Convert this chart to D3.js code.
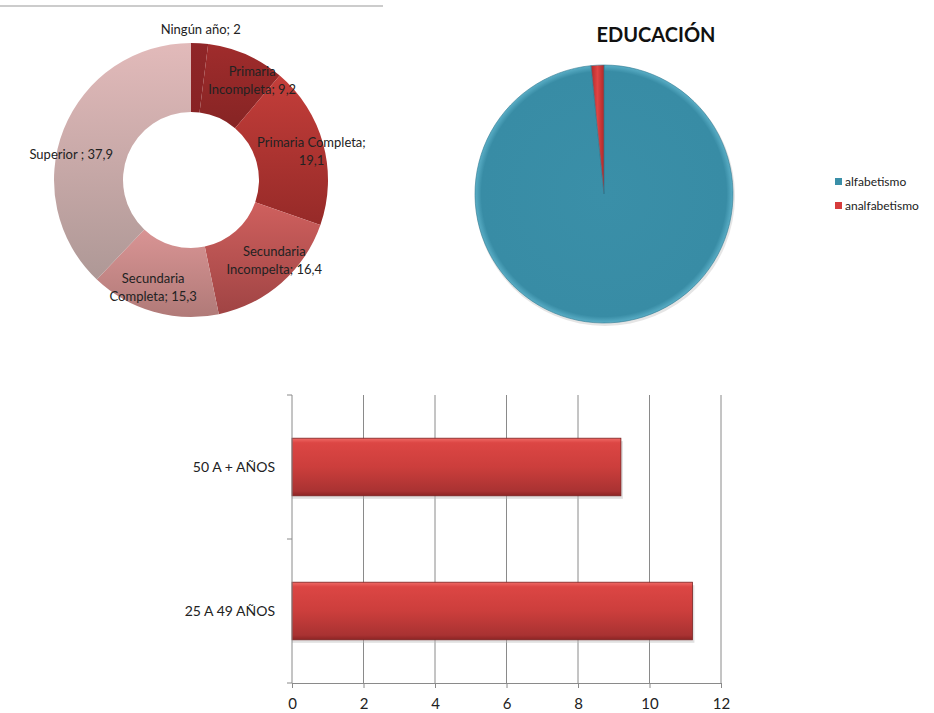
<!DOCTYPE html>
<html lang="es">
<head>
<meta charset="UTF-8">
<title>Educación</title>
<script src="https://d3js.org/d3.v7.min.js"></script>
<style>
  body { margin: 0; background: #fff; }
  svg { font-family: Lato, "Open Sans", sans-serif; }
</style>
</head>
<body>
<svg id="chart" width="934" height="713"></svg>
<script>
// nivel educativo (dona)
const niveles = ["Ningún año", "Primaria Incompleta", "Primaria Completa", "Secundaria Incompelta", "Secundaria Completa", "Superior "];
const nivelValores = [2, 9.2, 19.1, 16.4, 15.3, 37.9];
const nivelEtiquetas = [["Ningún año; 2"], ["Primaria", "Incompleta; 9,2"], ["Primaria Completa;", "19,1"], ["Secundaria", "Incompelta; 16,4"], ["Secundaria", "Completa; 15,3"], ["Superior ; 37,9"]];

// alfabetismo (pie)
const alfaCategorias = ["alfabetismo", "analfabetismo"];
const alfaValores = [98.4, 1.6];

// barras por edad
const edades = ["50 A + AÑOS", "25 A 49 AÑOS"];
const edadValores = [9.2, 11.2];
const xTicks = [0, 2, 4, 6, 8, 10, 12];

const svg = d3.select("#chart");
const defs = svg.append("defs");

// colores de la dona: arriba / abajo
const donaTop = ["#902628", "#a02c2c", "#c43e3a", "#cf605e", "#d99494", "#e2baba"];
const donaBot = ["#882224", "#862424", "#962a28", "#a04444", "#b07a78", "#ae9896"];
donaTop.forEach((c, i) => {
  const g = defs.append("linearGradient").attr("id", "dg" + i)
    .attr("x1", 0).attr("y1", 0).attr("x2", 0).attr("y2", 1);
  g.append("stop").attr("offset", "0%").attr("stop-color", c);
  g.append("stop").attr("offset", "100%").attr("stop-color", donaBot[i]);
});

// linea superior
svg.append("line").attr("x1", 0).attr("x2", 383).attr("y1", 6).attr("y2", 6)
  .attr("stroke", "#999").attr("stroke-width", 1.2);

// ---- dona ----
const dona = svg.append("g").attr("transform", "translate(191,180)");
const pieD = d3.pie().sort(null).value(d => d);
const arcD = d3.arc().innerRadius(68).outerRadius(137);
const arcsD = pieD(nivelValores);
dona.selectAll("path").data(arcsD).enter().append("path")
  .attr("d", arcD)
  .attr("fill", (d, i) => `url(#dg${i})`);

// empujes de etiqueta desde el centroide
const labelArc = d3.arc().innerRadius(102).outerRadius(102);
const nudge = [[0, 5], [20, -6], [22, -1], [16, 4], [-10, 10], [-25, 13]];
dona.selectAll("text.lbl").data(arcsD).enter().append("text")
  .attr("class", "lbl")
  .attr("text-anchor", "middle")
  .attr("font-size", 13)
  .attr("fill", "#222")
  .attr("transform", (d, i) => {
    let c = labelArc.centroid(d);
    if (i === 0) c = d3.arc().innerRadius(155).outerRadius(155).centroid(d);
    return `translate(${c[0] + nudge[i][0]},${c[1] + nudge[i][1]})`;
  })
  .each(function(d, i) {
    const lines = nivelEtiquetas[i];
    const t = d3.select(this);
    lines.forEach((l, k) => {
      t.append("tspan").attr("x", 0)
        .attr("dy", k === 0 ? (-(lines.length - 1) * 9 + 4) + "px" : "18px")
        .text(l);
    });
  });

// ---- pie alfabetismo ----
const rg = defs.append("radialGradient").attr("id", "teal")
  .attr("cx", "50%").attr("cy", "50%").attr("r", "50%");
rg.append("stop").attr("offset", "0%").attr("stop-color", "#3a8fa8");
rg.append("stop").attr("offset", "95%").attr("stop-color", "#388ca5");
rg.append("stop").attr("offset", "100%").attr("stop-color", "#5aaec6");
const rr = defs.append("linearGradient").attr("id", "rojo")
  .attr("x1", 0).attr("y1", 0).attr("x2", 1).attr("y2", 0);
rr.append("stop").attr("offset", "0%").attr("stop-color", "#b02a2a");
rr.append("stop").attr("offset", "50%").attr("stop-color", "#e04444");
rr.append("stop").attr("offset", "100%").attr("stop-color", "#b02a2a");
const pieColors = d3.scaleOrdinal().domain(alfaCategorias).range(["url(#teal)", "url(#rojo)"]);
const legendColors = d3.scaleOrdinal().domain(alfaCategorias).range(["#3a8fa8", "#d63c3c"]);

svg.append("text").attr("x", 656).attr("y", 42).attr("text-anchor", "middle")
  .attr("font-size", 20).attr("font-weight", "bold").attr("fill", "#111")
  .text("EDUCACIÓN");

const pieG = svg.append("g").attr("transform", "translate(604,194)");
const pieA = d3.pie().sort(null).value(d => d);
const arcA = d3.arc().innerRadius(0).outerRadius(129);
const arcsA = pieA(alfaValores);
pieG.append("circle").attr("r", 130).attr("cx", 1).attr("cy", 2).attr("fill", "#ccc").attr("opacity", 0.5);
pieG.selectAll("path").data(arcsA).enter().append("path")
  .attr("d", arcA)
  .attr("fill", (d, i) => pieColors(alfaCategorias[i]))
  .attr("stroke", "#2f7890").attr("stroke-width", 0.6);

const leg = svg.append("g").attr("transform", "translate(835,176)");
alfaCategorias.forEach((c, i) => {
  const g = leg.append("g").attr("transform", `translate(0,${i * 24})`);
  g.append("rect").attr("width", 7).attr("height", 7).attr("y", 2).attr("fill", legendColors(c));
  g.append("text").attr("x", 10).attr("y", 10).attr("font-size", 12).attr("fill", "#222").text(c);
});

// ---- barras ----
const bx = d3.scaleLinear().domain([0, 12]).range([292, 721]);
const by = d3.scaleBand().domain(edades).range([395, 683]).paddingInner(0.6).paddingOuter(0.3);

const bg = defs.append("linearGradient").attr("id", "barra")
  .attr("x1", 0).attr("y1", 0).attr("x2", 0).attr("y2", 1);
bg.append("stop").attr("offset", "0%").attr("stop-color", "#f06a66");
bg.append("stop").attr("offset", "8%").attr("stop-color", "#dc4644");
bg.append("stop").attr("offset", "50%").attr("stop-color", "#cc3e3c");
bg.append("stop").attr("offset", "92%").attr("stop-color", "#a93232");
bg.append("stop").attr("offset", "100%").attr("stop-color", "#8c2424");

const grid = svg.append("g");
grid.selectAll("line").data(xTicks.slice(1)).enter().append("line")
  .attr("x1", d => bx(d)).attr("x2", d => bx(d))
  .attr("y1", 395).attr("y2", 683)
  .attr("stroke", "#8a8a8a").attr("stroke-width", 1);

svg.append("g").selectAll("rect.sh").data(edades).enter().append("rect")
  .attr("x", bx(0)).attr("y", d => by(d) + 3)
  .attr("width", (d, i) => bx(edadValores[i]) - bx(0) + 2)
  .attr("height", by.bandwidth())
  .attr("fill", "#bbb").attr("opacity", 0.45);

svg.append("g").selectAll("rect.bar").data(edades).enter().append("rect")
  .attr("x", bx(0)).attr("y", d => by(d))
  .attr("width", (d, i) => bx(edadValores[i]) - bx(0))
  .attr("height", by.bandwidth())
  .attr("fill", "url(#barra)")
  .attr("stroke", "#7a2020").attr("stroke-width", 0.8);

const xAxis = svg.append("g").attr("transform", "translate(0,683)")
  .call(d3.axisBottom(bx).tickValues(xTicks).tickSize(5).tickSizeOuter(5));
xAxis.select(".domain").attr("stroke", "#8a8a8a");
xAxis.selectAll(".tick line").attr("stroke", "#8a8a8a");
xAxis.selectAll("text").attr("font-size", 15).attr("fill", "#222").attr("dy", "1.2em")
  .attr("font-family", "Lato, sans-serif");

// eje vertical con marcas entre categorías
const yAxis = svg.append("g").attr("transform", "translate(292,0)");
yAxis.append("line").attr("y1", 395).attr("y2", 683).attr("stroke", "#8a8a8a");
const yTicks = [395, (by(edades[0]) + by.bandwidth() + by(edades[1])) / 2, 683];
yAxis.selectAll("line.t").data(yTicks).enter().append("line")
  .attr("x1", -5).attr("x2", 0).attr("y1", d => d).attr("y2", d => d)
  .attr("stroke", "#8a8a8a");
yAxis.selectAll("text").data(edades).enter().append("text")
  .attr("x", -17).attr("y", d => by(d) + by.bandwidth() / 2 + 5)
  .attr("text-anchor", "end").attr("font-size", 14).attr("fill", "#222")
  .text(d => d);
</script>
</body>
</html>
